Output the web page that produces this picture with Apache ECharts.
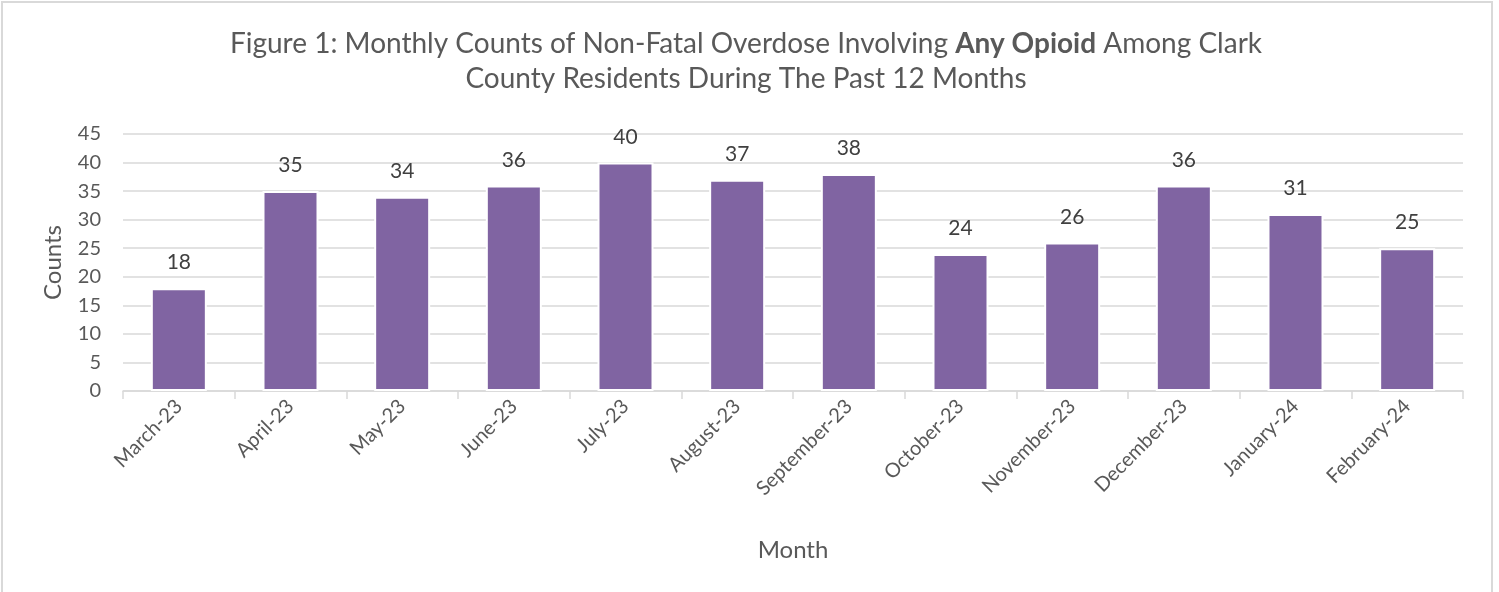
<!DOCTYPE html>
<html>
<head>
<meta charset="utf-8">
<script src="https://cdn.jsdelivr.net/npm/echarts@6/dist/echarts.min.js"></script>
<style>
  html, body { margin: 0; padding: 0; background: #fff; }
  #main { width: 1499px; height: 592px; }
</style>
</head>
<body>
<div id="main"></div>
<script>
// data
const months = ["March-23", "April-23", "May-23", "June-23", "July-23", "August-23",
  "September-23", "October-23", "November-23", "December-23", "January-24", "February-24"];
const counts = [18, 35, 34, 36, 40, 37, 38, 24, 26, 36, 31, 25];
const yTicks = [0, 5, 10, 15, 20, 25, 30, 35, 40, 45];

// Lato is the closest installed face to Calibri
const font = "Lato, 'Open Sans', sans-serif";
const grey = "#595959";

const chart = echarts.init(document.getElementById("main"));

chart.setOption({
  animation: false,
  textStyle: { fontFamily: font, color: grey },
  graphic: [
    {
      type: "rect",
      shape: { x: 2, y: 2, width: 1490, height: 600 },
      style: { fill: "none", stroke: "#d9d9d9", lineWidth: 2 },
      silent: true
    },
    {
      // title, with "Any Opioid" in bold
      type: "text",
      x: 746,
      y: 26,
      silent: true,
      style: {
        text: "{a|Figure 1: Monthly Counts of Non-Fatal Overdose Involving }{b|Any Opioid}{a| Among Clark}\n{a|County Residents During The Past 12 Months}",
        align: "center",
        verticalAlign: "top",
        rich: {
          a: { fontFamily: font, fontSize: 28, fill: grey, lineHeight: 35, fontWeight: "normal" },
          b: { fontFamily: font, fontSize: 28, fill: grey, lineHeight: 35, fontWeight: "bold" }
        }
      }
    }
  ],
  grid: { left: 123, right: 36, top: 134, bottom: 201 },
  xAxis: {
    type: "category",
    data: months,
    name: "Month",
    nameLocation: "middle",
    nameGap: 147,
    nameTextStyle: { fontSize: 24, color: grey, fontFamily: font },
    axisLine: { lineStyle: { color: "#d9d9d9", width: 1.5 } },
    axisTick: { show: true, length: 8, lineStyle: { color: "#d9d9d9", width: 1.5 } },
    axisLabel: { rotate: 45, fontSize: 20, color: grey, margin: 12, fontFamily: font }
  },
  yAxis: {
    type: "value",
    min: 0,
    max: 45,
    interval: 5,
    name: "Counts",
    nameLocation: "middle",
    nameGap: 58,
    nameTextStyle: { fontSize: 24, color: grey, fontFamily: font },
    axisLine: { show: false },
    axisTick: { show: false },
    splitLine: { lineStyle: { color: "#d9d9d9", width: 1.5 } },
    axisLabel: {
      fontSize: 20, color: grey, margin: 22, fontFamily: font,
      formatter: v => yTicks.includes(v) ? String(v) : ""
    }
  },
  series: [{
    type: "bar",
    data: counts,
    barWidth: 56,
    itemStyle: { color: "#8064a2", borderColor: "#ffffff", borderWidth: 2 },
    label: {
      show: true,
      position: "top",
      distance: 15,
      fontSize: 21,
      color: "#404040",
      fontFamily: font
    }
  }]
});
</script>
</body>
</html>
